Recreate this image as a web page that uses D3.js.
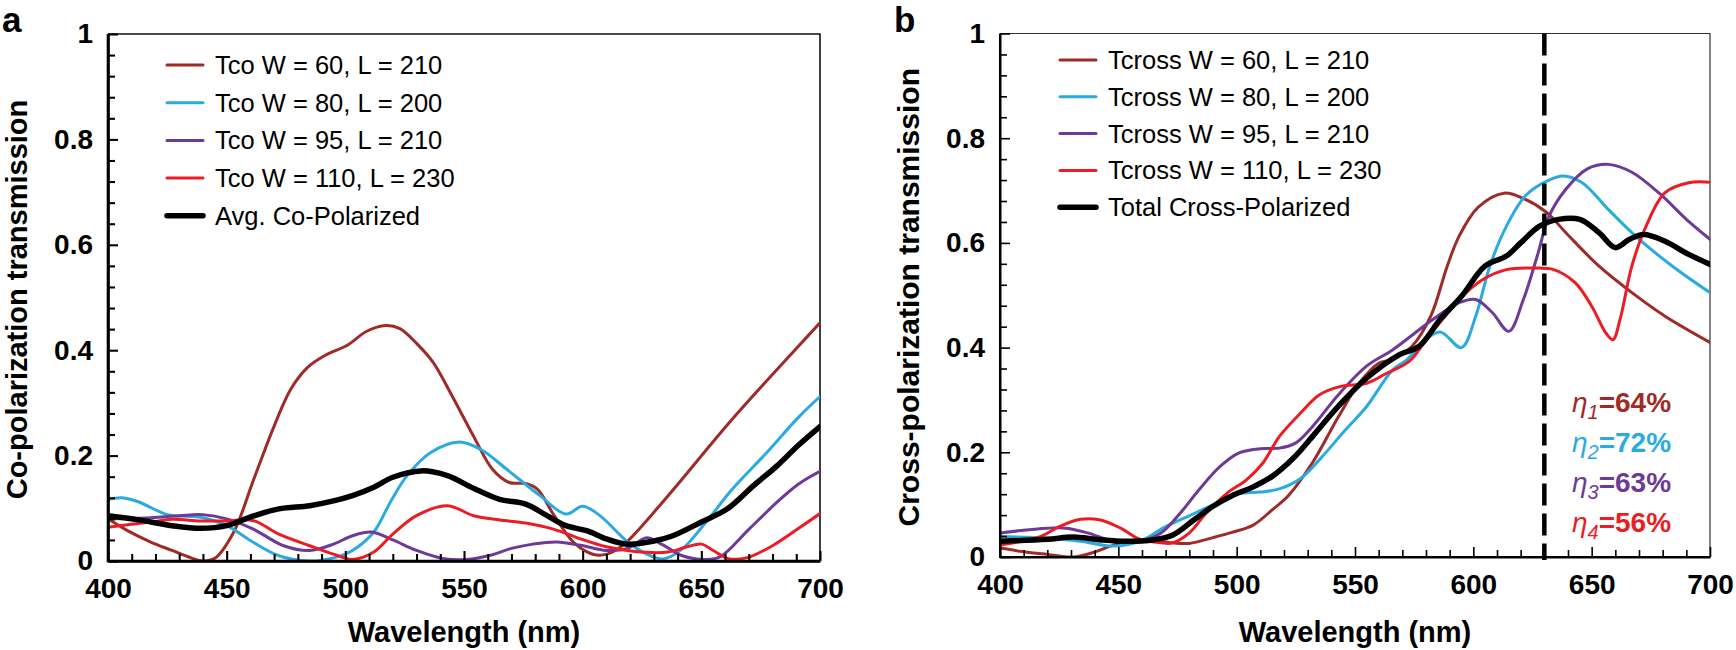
<!DOCTYPE html>
<html>
<head>
<meta charset="utf-8">
<script src="https://cdn.jsdelivr.net/npm/d3@7"></script>
<style>
  html, body { margin: 0; padding: 0; background: #fff; }
  svg { display: block; }
  text { font-family: "Liberation Sans", Arial, Helvetica, sans-serif; fill: #000; }
</style>
</head>
<body>
<svg id="chart" width="1736" height="650"></svg>
<script>
// ---------------- DATA ----------------
const wavelengthTicks = [400, 450, 500, 550, 600, 650, 700];
const transmissionTicks = [0, 0.2, 0.4, 0.6, 0.8, 1];
const transmissionTickLabels = ["0", "0.2", "0.4", "0.6", "0.8", "1"];

const seriesColors = ["#9e2b27", "#29abe2", "#6d3a97", "#ed1c24", "#000000"];

const coLabels = ["Tco W = 60, L = 210", "Tco W = 80, L = 200", "Tco W = 95, L = 210", "Tco W = 110, L = 230", "Avg. Co-Polarized"];
const crossLabels = ["Tcross W = 60, L = 210", "Tcross W = 80, L = 200", "Tcross W = 95, L = 210", "Tcross W = 110, L = 230", "Total Cross-Polarized"];

// Panel a: co-polarization transmission [wavelength nm, T]
const coW60 = [[400,0.08],[408,0.058],[418,0.036],[427,0.02],[435,0.006],[440,0.0],[445,0.005],[453,0.055],[461,0.15],[470,0.256],[477,0.326],[484,0.367],[491,0.389],[501,0.41],[509,0.436],[517,0.447],[523,0.441],[530,0.413],[537,0.377],[545,0.313],[554,0.237],[562,0.174],[569,0.149],[576,0.147],[581,0.136],[588,0.086],[596,0.036],[602,0.017],[607,0.011],[613,0.018],[619,0.038],[636,0.124],[663,0.269],[691,0.408],[700,0.452]];
const coW80 = [[400,0.117],[406,0.12],[413,0.112],[425,0.088],[439,0.083],[450,0.067],[461,0.036],[472,0.01],[485,0.0],[495,0.006],[503,0.02],[512,0.055],[519,0.112],[526,0.162],[536,0.206],[548,0.226],[557,0.212],[568,0.174],[582,0.124],[593,0.089],[600,0.104],[607,0.087],[619,0.036],[627,0.013],[634,0.004],[642,0.023],[652,0.074],[663,0.136],[677,0.203],[691,0.273],[700,0.312]];
const coW95 = [[400,0.08],[418,0.082],[430,0.086],[440,0.088],[450,0.08],[461,0.061],[474,0.029],[485,0.02],[495,0.032],[503,0.048],[511,0.055],[520,0.04],[530,0.02],[541,0.005],[551,0.003],[562,0.012],[570,0.024],[579,0.032],[589,0.036],[599,0.03],[610,0.02],[619,0.024],[627,0.044],[634,0.03],[642,0.01],[652,0.003],[658,0.008],[670,0.06],[682,0.112],[691,0.146],[700,0.17]];
const coW110 = [[400,0.064],[418,0.074],[427,0.079],[439,0.076],[450,0.076],[461,0.077],[472,0.051],[485,0.029],[495,0.013],[503,0.003],[512,0.017],[520,0.051],[530,0.086],[543,0.105],[554,0.086],[565,0.078],[576,0.072],[588,0.06],[599,0.042],[610,0.027],[622,0.018],[636,0.017],[644,0.027],[650,0.032],[655,0.02],[661,0.005],[669,0.006],[680,0.029],[691,0.062],[700,0.09]];
const coAvg = [[400,0.086],[413,0.078],[427,0.067],[439,0.062],[450,0.067],[461,0.085],[472,0.099],[485,0.105],[495,0.114],[503,0.124],[512,0.14],[520,0.159],[532,0.171],[543,0.162],[554,0.138],[565,0.117],[576,0.108],[585,0.086],[593,0.067],[602,0.057],[610,0.042],[619,0.032],[630,0.038],[638,0.048],[650,0.074],[661,0.099],[672,0.143],[682,0.181],[691,0.22],[700,0.255]];

// Panel b: cross-polarization transmission [wavelength nm, T]
const crossW60 = [[400,0.017],[410,0.01],[420,0.005],[431,0.0],[439,0.008],[451,0.027],[462,0.033],[473,0.027],[480,0.026],[490,0.037],[498,0.047],[507,0.061],[515,0.09],[522,0.118],[532,0.18],[543,0.268],[552,0.333],[560,0.37],[566,0.378],[574,0.402],[582,0.46],[589,0.556],[594,0.613],[602,0.668],[613,0.695],[622,0.683],[631,0.658],[639,0.62],[653,0.556],[667,0.505],[681,0.46],[700,0.41]];
const crossW80 = [[400,0.039],[420,0.036],[434,0.03],[448,0.021],[459,0.03],[470,0.058],[482,0.083],[493,0.106],[501,0.121],[510,0.124],[518,0.13],[527,0.15],[535,0.186],[546,0.243],[555,0.288],[566,0.358],[572,0.377],[579,0.412],[586,0.43],[595,0.4],[601,0.46],[607,0.556],[614,0.632],[622,0.69],[631,0.718],[638,0.728],[646,0.715],[657,0.664],[670,0.607],[684,0.556],[700,0.505]];
const crossW95 = [[400,0.046],[420,0.055],[428,0.055],[437,0.046],[448,0.03],[459,0.03],[468,0.046],[476,0.083],[484,0.128],[493,0.173],[501,0.199],[510,0.207],[518,0.208],[525,0.218],[532,0.249],[543,0.31],[555,0.365],[566,0.396],[583,0.454],[594,0.486],[601,0.492],[608,0.467],[615,0.431],[621,0.49],[627,0.575],[632,0.651],[639,0.702],[648,0.741],[657,0.75],[667,0.735],[679,0.693],[690,0.645],[700,0.607]];
const crossW110 = [[400,0.023],[417,0.039],[425,0.058],[434,0.072],[442,0.071],[451,0.055],[459,0.034],[468,0.027],[473,0.027],[480,0.046],[487,0.083],[496,0.122],[504,0.147],[511,0.179],[518,0.23],[527,0.275],[535,0.31],[544,0.326],[555,0.332],[563,0.35],[573,0.374],[580,0.415],[587,0.454],[594,0.492],[604,0.53],[614,0.549],[625,0.552],[634,0.549],[643,0.524],[650,0.479],[656,0.428],[659,0.415],[662,0.454],[667,0.556],[673,0.632],[681,0.696],[691,0.715],[700,0.716]];
const crossTotal = [[400,0.03],[420,0.034],[431,0.038],[442,0.033],[453,0.03],[465,0.033],[473,0.042],[482,0.071],[490,0.097],[498,0.117],[507,0.134],[515,0.154],[524,0.189],[532,0.23],[543,0.288],[555,0.342],[569,0.387],[577,0.402],[586,0.454],[595,0.498],[605,0.556],[614,0.575],[620,0.6],[628,0.632],[636,0.645],[645,0.645],[653,0.62],[660,0.591],[666,0.607],[672,0.616],[681,0.603],[691,0.578],[700,0.559]];

const markerWavelength = 630;
const etaSubscripts = ["1", "2", "3", "4"];
const etaValues = ["=64%", "=72%", "=63%", "=56%"];

// ---------------- DRAW ----------------
const svg = d3.select("#chart");

function panel(opts) {
  const { x0, x1, yTop, yBot, series, labels, yTitle, yTitleX, yTitleSize, letter, letterX,
          legendX, legendY, legendStep, axisW, frameW, frameColor } = opts;
  const x = d3.scaleLinear().domain([400, 700]).range([x0, x1]);
  const y = d3.scaleLinear().domain([0, 1]).range([yBot, yTop]);
  const g = svg.append("g");

  // frame (top/right)
  g.append("path")
    .attr("d", `M${x0},${yTop}H${x1}V${yBot}`)
    .attr("fill", "none").attr("stroke", frameColor).attr("stroke-width", frameW);

  // clip
  const cid = "clip" + letter;
  svg.append("clipPath").attr("id", cid).append("rect")
    .attr("x", x0).attr("y", yTop - 2).attr("width", x1 - x0).attr("height", yBot - yTop + 2);

  // lines
  const line = d3.line().x(d => x(d[0])).y(d => y(d[1])).curve(d3.curveCatmullRom.alpha(0.5));
  const lg = g.append("g").attr("clip-path", `url(#${cid})`);
  series.forEach((s, i) => {
    lg.append("path").datum(s)
      .attr("d", line)
      .attr("fill", "none")
      .attr("stroke", seriesColors[i])
      .attr("stroke-width", i === 4 ? 5.5 : 3)
      .attr("stroke-linejoin", "round")
      .attr("stroke-linecap", "round");
  });

  // minor ticks
  const minorX = d3.range(400, 701, 10).filter(v => v % 50 !== 0);
  const minorY = d3.range(0, 1.001, 0.04).filter(v => Math.abs(v * 5 - Math.round(v * 5)) > 1e-6);
  g.append("g").attr("transform", `translate(0,${yBot})`)
    .call(d3.axisBottom(x).tickValues(minorX).tickSize(-7).tickFormat(""))
    .call(a => a.select(".domain").remove())
    .call(a => a.selectAll("line").attr("stroke", "#000").attr("stroke-width", axisW * 0.8));
  g.append("g").attr("transform", `translate(${x0},0)`)
    .call(d3.axisLeft(y).tickValues(minorY).tickSize(-7).tickFormat(""))
    .call(a => a.select(".domain").remove())
    .call(a => a.selectAll("line").attr("stroke", "#000").attr("stroke-width", axisW * 0.8));

  // major axes
  const xa = g.append("g").attr("transform", `translate(0,${yBot})`)
    .call(d3.axisBottom(x).tickValues(wavelengthTicks).tickSize(-10).tickSizeOuter(0).tickPadding(17).tickFormat(d3.format("d")));
  const ya = g.append("g").attr("transform", `translate(${x0},0)`)
    .call(d3.axisLeft(y).tickValues(transmissionTicks).tickSize(-10).tickSizeOuter(0).tickPadding(15)
      .tickFormat((d, i) => transmissionTickLabels[i]));
  [xa, ya].forEach(a => {
    a.select(".domain").attr("stroke", "#000").attr("stroke-width", axisW);
    a.selectAll("line").attr("stroke", "#000").attr("stroke-width", axisW * 0.8);
    a.selectAll("text").attr("font-size", 28).attr("font-weight", "bold").attr("fill", "#000")
      .style("font-family", '"Liberation Sans", Arial, sans-serif');
  });
  // redraw axis lines to extend across corner
  g.append("path").attr("d", `M${x0},${yTop}V${yBot}H${x1}`)
    .attr("fill", "none").attr("stroke", "#000").attr("stroke-width", axisW);

  // axis titles
  g.append("text").attr("x", (x0 + x1) / 2).attr("y", 642)
    .attr("text-anchor", "middle").attr("font-size", 29).attr("font-weight", "bold")
    .text("Wavelength (nm)");
  g.append("text")
    .attr("transform", `translate(${yTitleX},${(yTop + yBot) / 2 + 2}) rotate(-90)`)
    .attr("text-anchor", "middle").attr("font-size", yTitleSize).attr("font-weight", "bold")
    .text(yTitle);

  // panel letter
  g.append("text").attr("x", letterX).attr("y", 32)
    .attr("font-size", 35).attr("font-weight", "bold").text(letter);

  // legend
  const leg = g.append("g");
  labels.forEach((lab, i) => {
    const yy = legendY + i * legendStep;
    leg.append("line").attr("x1", legendX).attr("x2", legendX + 36)
      .attr("y1", yy).attr("y2", yy)
      .attr("stroke", seriesColors[i]).attr("stroke-width", i === 4 ? 5.5 : 3)
      .attr("stroke-linecap", "round");
    leg.append("text").attr("x", legendX + 48).attr("y", yy + 9)
      .attr("font-size", 25.5).text(lab);
  });

  return { g, x, y };
}

const A = panel({
  x0: 108, x1: 820, yTop: 34, yBot: 561,
  series: [coW60, coW80, coW95, coW110, coAvg], labels: coLabels,
  yTitle: "Co-polarization transmission", yTitleX: 27, yTitleSize: 29, letter: "a", letterX: 2,
  legendX: 167, legendY: 65, legendStep: 37.7, axisW: 2.6, frameW: 1.6, frameColor: "#111"
});

const B = panel({
  x0: 1000, x1: 1710, yTop: 33.5, yBot: 557,
  series: [crossW60, crossW80, crossW95, crossW110, crossTotal], labels: crossLabels,
  yTitle: "Cross-polarization transmission", yTitleX: 919, yTitleSize: 30, letter: "b", letterX: 894,
  legendX: 1060, legendY: 60, legendStep: 36.8, axisW: 2, frameW: 1.2, frameColor: "#333"
});

// dashed marker line in panel b
B.g.append("line")
  .attr("x1", B.x(markerWavelength)).attr("x2", B.x(markerWavelength))
  .attr("y1", B.y(1)).attr("y2", B.y(0) + 3)
  .attr("stroke", "#000").attr("stroke-width", 4.5)
  .attr("stroke-dasharray", "22,8");

// efficiency labels
etaValues.forEach((v, i) => {
  const t = B.g.append("text").attr("x", 1572).attr("y", 412 + i * 40)
    .attr("fill", seriesColors[i]).style("fill", seriesColors[i]);
  t.append("tspan").attr("font-size", 28).attr("font-style", "italic").text("\u03B7");
  t.append("tspan").attr("font-size", 20).attr("font-style", "italic").attr("dy", 7).text(etaSubscripts[i]);
  t.append("tspan").attr("font-size", 28).attr("font-weight", "bold").attr("dy", -7).text(v);
});
</script>
</body>
</html>
